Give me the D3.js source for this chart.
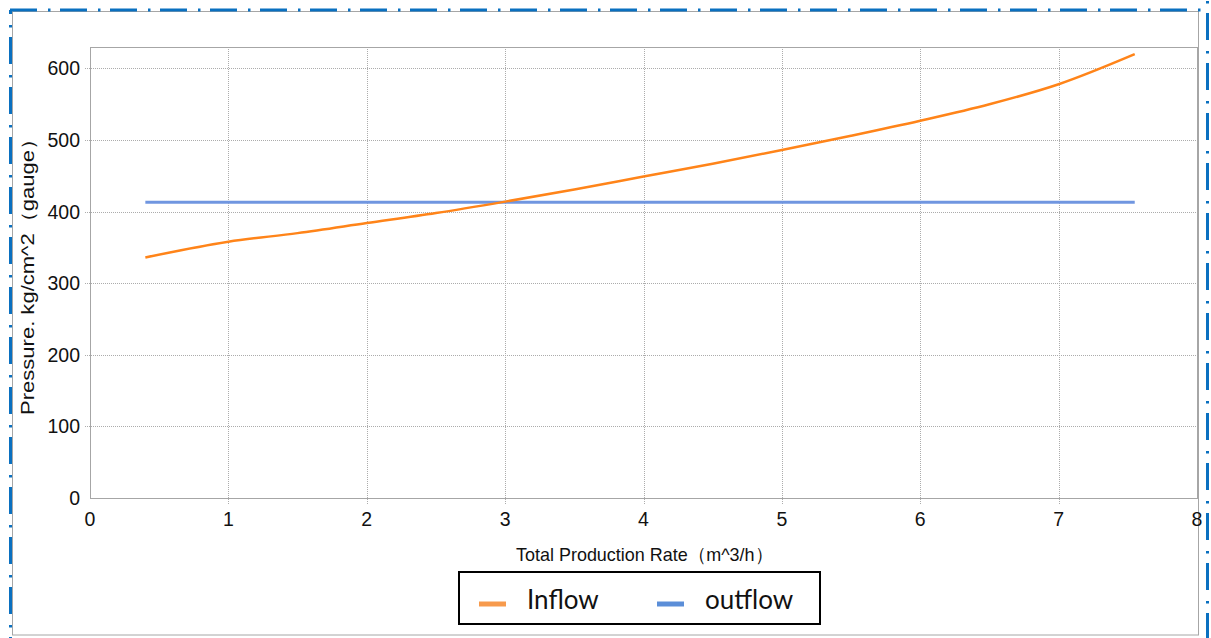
<!DOCTYPE html>
<html>
<head>
<meta charset="utf-8">
<script src="https://cdn.jsdelivr.net/npm/d3@7"></script>
<style>
  body { margin: 0; background: #fff; }
  svg { display: block; }
</style>
</head>
<body>
<svg></svg>
<script>

// values
var rate = [0.4, 1, 1.5, 2, 2.5, 3, 3.5, 4, 4.5, 5, 5.5, 6, 6.5, 7, 7.55],
    inflow = [336, 358, 370, 384, 398, 414, 431, 449, 467, 486, 506, 527, 550, 578, 620],
    outflowRate = [0.4, 7.55],
    outflow = [413, 413],
    xTicks = [0, 1, 2, 3, 4, 5, 6, 7, 8],
    yTicks = [0, 100, 200, 300, 400, 500, 600],
    seriesNames = ["Inflow", "outflow"];

var width = 1211, height = 638,
    svg = d3.select("svg").attr("width", width).attr("height", height);

var margin = {left: 90, top: 47, right: 1197, bottom: 498};

var x = d3.scaleLinear().domain([0, 8]).range([margin.left, margin.right]),
    y = d3.scaleLinear().domain([0, 630]).range([margin.bottom, margin.top]);

// outer frame
svg.append("rect")
    .attr("x", 12.5).attr("y", 11.5)
    .attr("width", 1186).attr("height", 623.5)
    .attr("fill", "none").attr("stroke", "#a6a6a6").attr("stroke-width", 1);

var dash = "27,11,2.5,9.5";
svg.append("line").attr("x1", 10).attr("y1", 10).attr("x2", 1209).attr("y2", 10)
    .attr("stroke", "#0a70c0").attr("stroke-width", 3).attr("stroke-dasharray", dash);
svg.append("line").attr("x1", 10.5).attr("y1", 10).attr("x2", 10.5).attr("y2", 640)
    .attr("stroke", "#0a70c0").attr("stroke-width", 3).attr("stroke-dasharray", dash)
    .attr("stroke-dashoffset", -27);
svg.append("line").attr("x1", 1207.5).attr("y1", 0).attr("x2", 1207.5).attr("y2", 640)
    .attr("stroke", "#0a70c0").attr("stroke-width", 3).attr("stroke-dasharray", dash)
    .attr("stroke-dashoffset", 37);

// grid
var grid = svg.append("g");
grid.selectAll(".vg").data(xTicks.slice(1, -1)).enter().append("line")
    .attr("x1", d => Math.round(x(d)) + 0.5).attr("x2", d => Math.round(x(d)) + 0.5)
    .attr("y1", margin.top).attr("y2", margin.bottom + 6)
    .attr("stroke", "#acacac").attr("stroke-dasharray", "1,1");
grid.selectAll(".hg").data(yTicks.slice(1)).enter().append("line")
    .attr("y1", d => Math.round(y(d)) + 0.5).attr("y2", d => Math.round(y(d)) + 0.5)
    .attr("x1", margin.left - 5).attr("x2", margin.right)
    .attr("stroke", "#acacac").attr("stroke-dasharray", "1,1");

svg.append("rect")
    .attr("x", margin.left + 0.5).attr("y", margin.top + 0.5)
    .attr("width", margin.right - margin.left).attr("height", margin.bottom - margin.top)
    .attr("fill", "none").attr("stroke", "#a6a6a6");

// tick labels
svg.append("g").selectAll("text").data(yTicks).enter().append("text")
    .attr("x", 80).attr("y", d => y(d) + 7)
    .attr("text-anchor", "end")
    .style("font", "19.5px 'Liberation Sans', Arial, sans-serif").attr("fill", "#111")
    .text(d => d);
svg.append("g").selectAll("text").data(xTicks).enter().append("text")
    .attr("x", d => x(d)).attr("y", 526)
    .attr("text-anchor", "middle")
    .style("font", "19.5px 'Liberation Sans', Arial, sans-serif").attr("fill", "#111")
    .text(d => d);

// axis titles
svg.append("text")
    .attr("x", 644.5).attr("y", 561)
    .attr("text-anchor", "middle")
    .attr("textLength", 257).attr("lengthAdjust", "spacingAndGlyphs")
    .style("font", "18.5px 'Liberation Sans', Arial, sans-serif").attr("fill", "#111")
    .text("Total Production Rate（m^3/h）");
svg.append("text")
    .attr("transform", "translate(34,271.5) rotate(-90)")
    .attr("text-anchor", "middle")
    .attr("textLength", 287).attr("lengthAdjust", "spacingAndGlyphs")
    .style("font", "18px 'Liberation Sans', Arial, sans-serif").attr("fill", "#111")
    .text("Pressure. kg/cm^2（gauge）");

// series
var line = d3.line().x(d => x(d[0])).y(d => y(d[1])).curve(d3.curveMonotoneX);

svg.append("path")
    .datum(outflowRate.map((r, i) => [r, outflow[i]]))
    .attr("d", line).attr("fill", "none")
    .attr("stroke", "#7096e0").attr("stroke-width", 3);

svg.append("path")
    .datum(rate.map((r, i) => [r, inflow[i]]))
    .attr("d", line).attr("fill", "none")
    .attr("stroke", "#ff8419").attr("stroke-width", 2.5);

// legend
var legend = svg.append("g");
legend.append("rect")
    .attr("x", 459).attr("y", 572).attr("width", 361).attr("height", 52)
    .attr("fill", "#fff").attr("stroke", "#000").attr("stroke-width", 2);

var legendColors = ["#f79a4c", "#5b8ed8"],
    legendX = [479, 657];
legend.selectAll(".sw").data(seriesNames).enter().append("line")
    .attr("x1", (d, i) => legendX[i]).attr("x2", (d, i) => legendX[i] + 27)
    .attr("y1", 604).attr("y2", 604)
    .attr("stroke", (d, i) => legendColors[i]).attr("stroke-width", 5);
legend.selectAll(".lt").data(seriesNames).enter().append("text")
    .attr("x", (d, i) => legendX[i] + 48).attr("y", 609)
    .style("font", "26px Lato, 'Open Sans', sans-serif").attr("fill", "#111")
    .text(d => d);

</script>
</body>
</html>
